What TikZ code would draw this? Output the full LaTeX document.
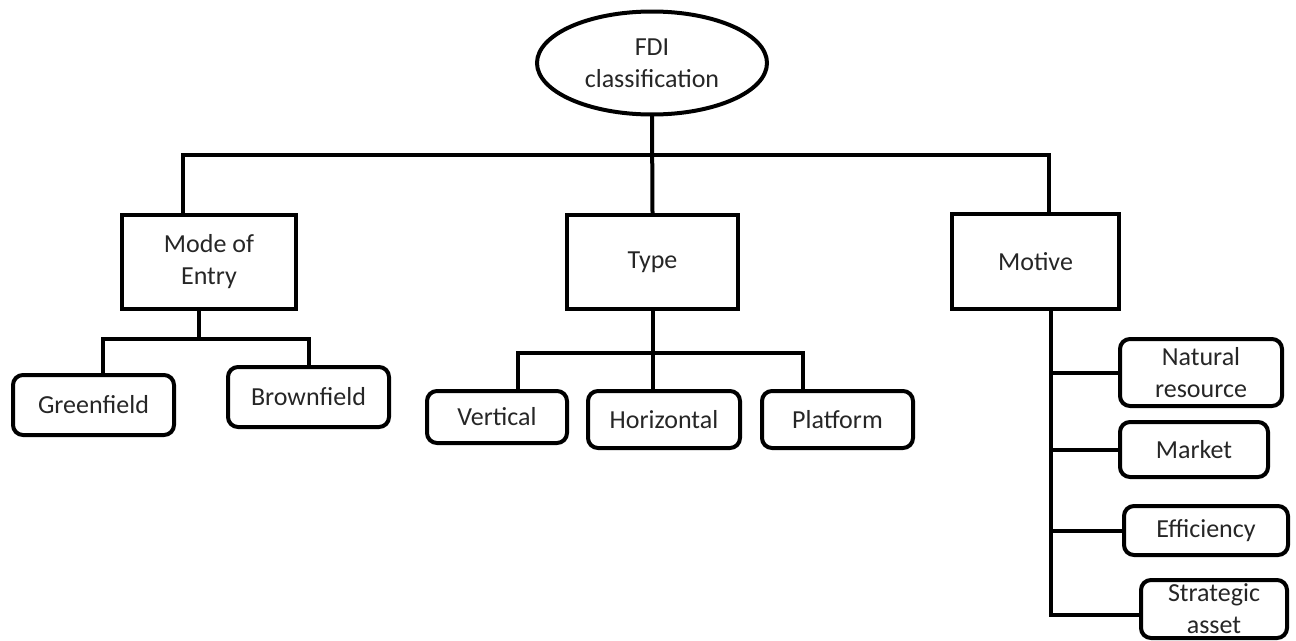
\documentclass[tikz,border=0pt]{standalone}
\usepackage{fontspec}
\setmainfont{Carlito}
\usetikzlibrary{shapes.geometric}
\begin{document}
\begin{tikzpicture}[x=1pt,y=-1pt,
  every node/.style={font=\fontsize{26}{32}\selectfont, text=black!85, align=center, inner sep=0pt},
  conn/.style={line width=4pt, line cap=rect, line join=miter},
  rootnode/.style={draw, ellipse, line width=4pt},
  mainbox/.style={draw, rectangle, line width=4.2pt},
  subbox/.style={draw, rectangle, rounded corners=10pt, line width=4pt}]
\useasboundingbox (0,0) rectangle (1296,640);
% nodes
\node[rootnode, minimum width=230, minimum height=103] (root) at (652,63) {FDI\\classification};
\node[mainbox, minimum width=174, minimum height=94] (moe) at (209,262) {Mode of\\Entry};
\node[mainbox, minimum width=171, minimum height=94] (type) at (652.5,262) {Type};
\node[mainbox, minimum width=167, minimum height=95] (motive) at (1035.5,261.5) {Motive};
\node[subbox, minimum width=161, minimum height=60] (green) at (93.5,405) {Greenfield};
\node[subbox, minimum width=161, minimum height=60] (brown) at (308.5,397) {Brownfield};
\node[subbox, minimum width=140, minimum height=52] (vert) at (497,417) {Vertical};
\node[subbox, minimum width=152, minimum height=57] (horiz) at (664,419.5) {Horizontal};
\node[subbox, minimum width=151, minimum height=57] (plat) at (837.5,419.5) {Platform};
\node[subbox, minimum width=162, minimum height=67] (natres) at (1201,372.5) {Natural\\resource};
\node[subbox, minimum width=148, minimum height=55] (market) at (1194,449.5) {Market};
\node[subbox, minimum width=164, minimum height=49] (eff) at (1206,530.5) {Efficiency};
\node[subbox, minimum width=146, minimum height=58] (strat) at (1214,609) {Strategic\\asset};
% coordinates
\coordinate (busL) at (183,155);
\coordinate (busR) at (1049,155);
\coordinate (mA) at (199,339);
\coordinate (gA) at (103,339);
\coordinate (tA) at (518,353);
\coordinate (tB) at (803,353);
\coordinate (mv) at (1051,615);
% connectors
\draw[conn] (root.south) -- (type.north);
\draw[conn] (busL |- moe.north) -- (busL) -- (busR) -- (busR |- motive.north);
\draw[conn] (mA |- moe.south) -- (mA);
\draw[conn] (gA |- green.north) -- (gA) -- (brown.north |- gA) -- (brown.north);
\draw[conn] (type.south) -- (type.south |- horiz.north);
\draw[conn] (tA |- vert.north) -- (tA) -- (tB) -- (tB |- plat.north);
\draw[conn] (mv |- motive.south) -- (mv) -- (strat.west |- mv);
\draw[conn] (natres.west -| mv) -- (natres.west);
\draw[conn] (market.west -| mv) -- (market.west);
\draw[conn] (eff.west -| mv) -- (eff.west);
\end{tikzpicture}
\end{document}
